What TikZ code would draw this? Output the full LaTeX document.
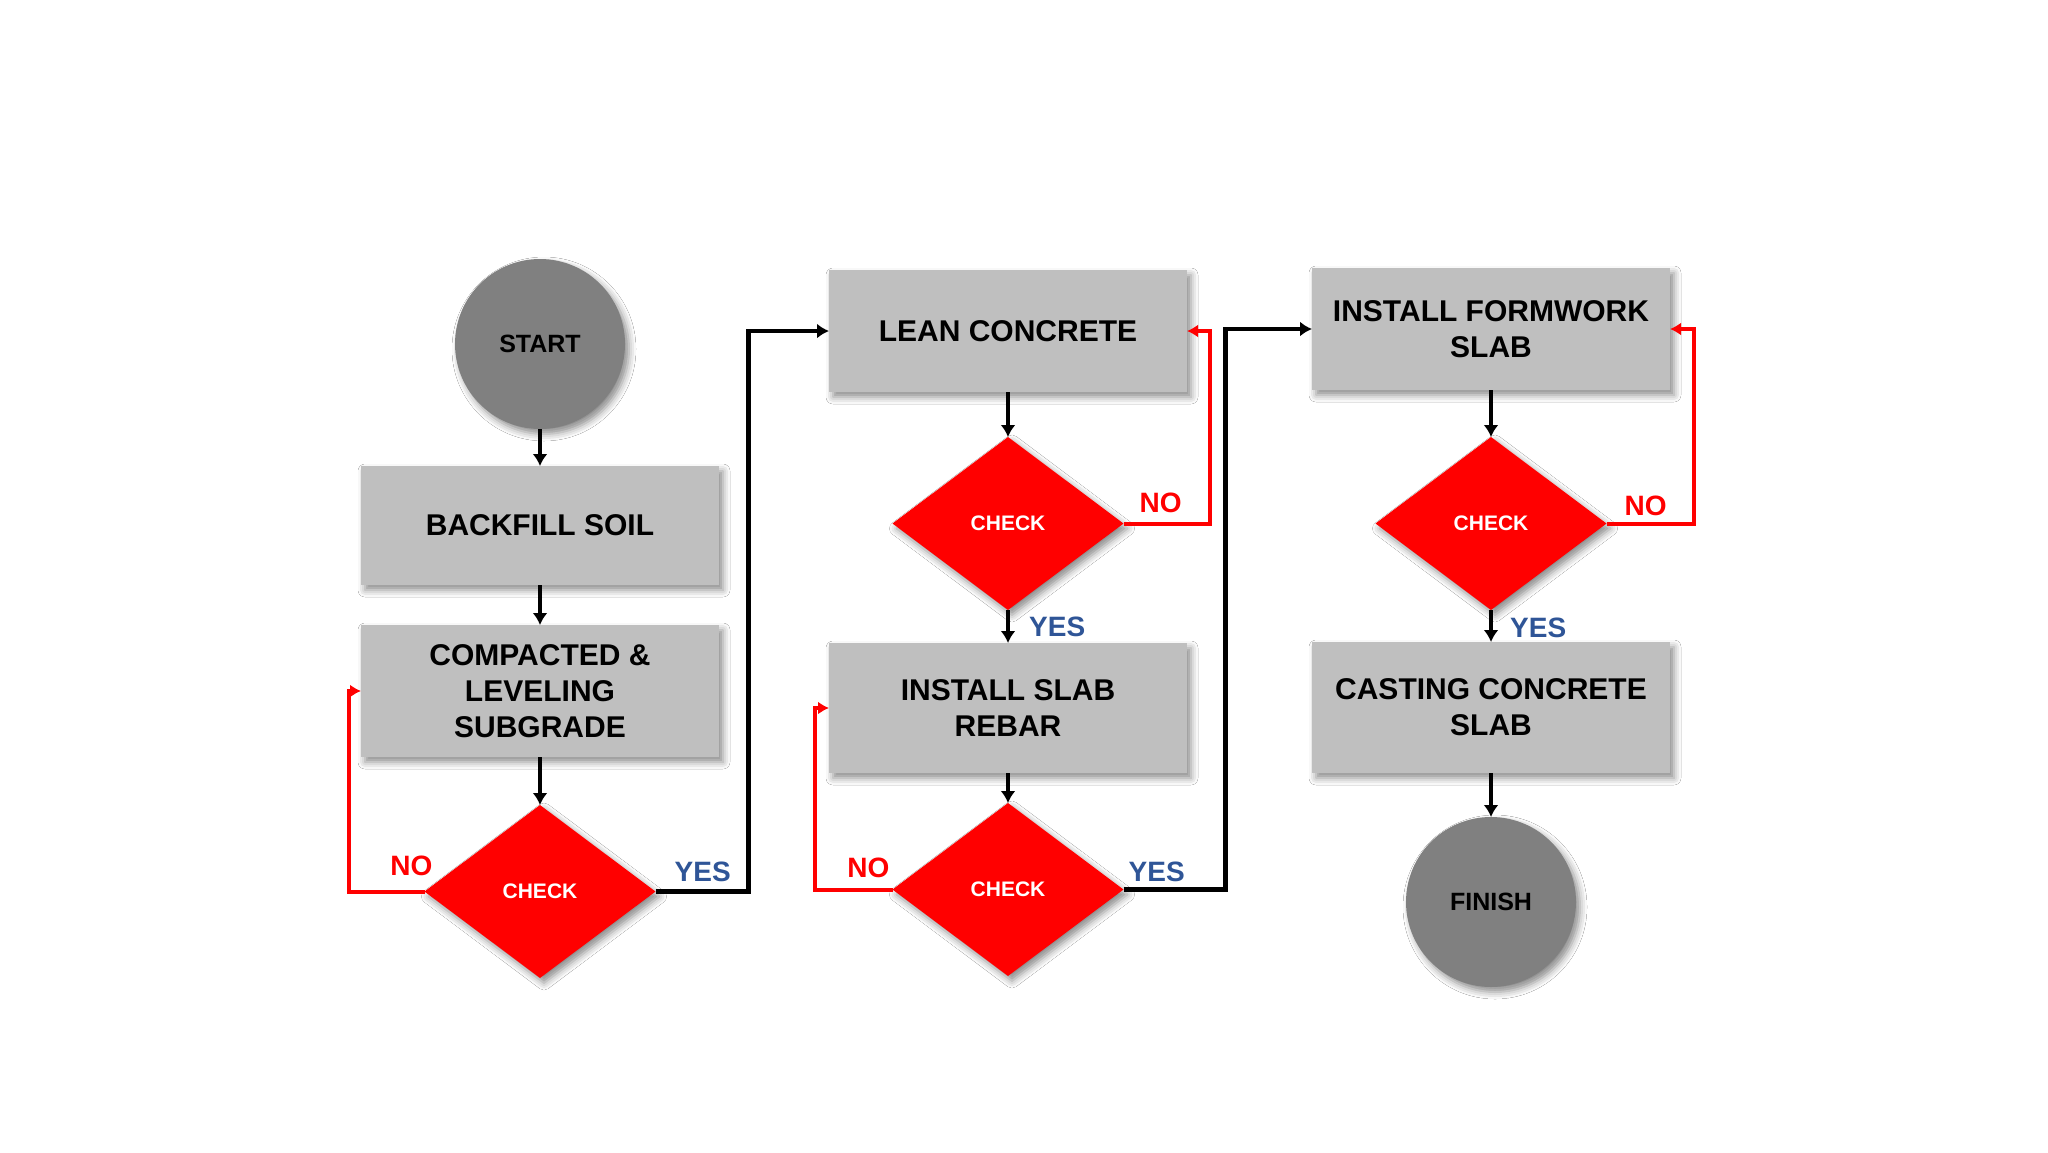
\documentclass[tikz,border=0pt]{standalone}
\usepackage{fontspec}
\setmainfont{Liberation Sans}
\usetikzlibrary{arrows.meta,positioning,shapes.geometric,shadows.blur}

\definecolor{termgray}{HTML}{808080}
\definecolor{boxgray}{HTML}{BFBFBF}
\definecolor{checkred}{HTML}{FF0000}
\definecolor{yesblue}{HTML}{2F5597}

\tikzset{
  softshadow/.style={blur shadow={shadow xshift=4pt, shadow yshift=-5pt, shadow blur radius=7pt, shadow opacity=45}},
  terminal/.style={circle, fill=termgray, minimum size=170pt, inner sep=0pt, outer sep=0pt,
    font=\bfseries\fontsize{25}{30}\selectfont, softshadow},
  stepbox/.style={rectangle, fill=boxgray, minimum width=358pt, inner sep=0pt, outer sep=0pt,
    align=center, font=\bfseries\fontsize{30}{36}\selectfont, softshadow},
  checkbox/.style={diamond, fill=checkred, minimum width=231pt, minimum height=173pt, inner sep=0pt,
    outer sep=0pt, text=white, font=\bfseries\fontsize{21}{25}\selectfont, softshadow},
  flow/.style={line width=4.2pt, -{Latex[length=12pt,width=15pt]}},
  loopback/.style={checkred, line width=4pt, -{Latex[length=11pt,width=13pt]}},
  nolabel/.style={inner sep=0pt, text=checkred, font=\bfseries\fontsize{28}{32}\selectfont},
  yeslabel/.style={inner sep=0pt, text=yesblue, font=\bfseries\fontsize{28}{32}\selectfont}
}

\begin{document}
\begin{tikzpicture}[x=1pt, y=1pt]
  \fill[white] (0,0) rectangle (2048,-1152);

  % first column
  \node[terminal] (start) at (540,-344) {START};
  \node[stepbox, minimum height=119pt, below=37pt of start] (backfill) {BACKFILL SOIL};
  \node[stepbox, minimum height=132pt, below=40pt of backfill] (compact) {COMPACTED \&\\LEVELING\\SUBGRADE};
  \node[checkbox, below=48pt of compact] (chkcompact) {CHECK};

  % second column
  \node[stepbox, minimum height=122pt] (lean) at (1008,-331) {LEAN CONCRETE};
  \node[checkbox, below=45pt of lean] (chklean) {CHECK};
  \node[stepbox, minimum height=130pt, below=33pt of chklean] (rebar) {INSTALL SLAB\\REBAR};
  \node[checkbox, below=30pt of rebar] (chkrebar) {CHECK};

  % third column
  \node[stepbox, minimum height=122pt] (formwork) at (1491,-329) {INSTALL FORMWORK\\SLAB};
  \node[checkbox, below=47pt of formwork] (chkform) {CHECK};
  \node[stepbox, minimum height=131pt, below=32pt of chkform] (casting) {CASTING CONCRETE\\SLAB};
  \node[terminal, below=44pt of casting] (finish) {FINISH};

  \draw[flow] (start) -- (backfill);
  \draw[flow] (backfill) -- (compact);
  \draw[flow] (compact) -- (chkcompact);
  \draw[flow] (chkcompact.east) -- ++(93,0) |- (lean.west);
  \draw[flow] (lean) -- (chklean);
  \draw[flow] (chklean) -- (rebar);
  \draw[flow] (rebar) -- (chkrebar);
  \draw[flow] (chkrebar.east) -- ++(102,0) |- (formwork.west);
  \draw[flow] (formwork) -- (chkform);
  \draw[flow] (chkform) -- (casting);
  \draw[flow] (casting) -- (finish);

  \draw[loopback] (chkcompact.west) -- ++(-76,0) |- (compact.west);
  \draw[loopback] (chklean.east) -- ++(86,0) |- (lean.east);
  \draw[loopback] (chkrebar.west) -- ++(-78,0) |- (rebar.west);
  \draw[loopback] (chkform.east) -- ++(87,0) |- (formwork.east);

  \node[nolabel, anchor=base east, xshift=8pt, yshift=16pt] (nocompact) at (chkcompact.west) {NO};
  \node[yeslabel, anchor=base west, xshift=19pt, yshift=10pt] (yescompact) at (chkcompact.east) {YES};
  \node[nolabel, anchor=base west, xshift=16pt, yshift=11pt] (nolean) at (chklean.east) {NO};
  \node[yeslabel, anchor=base west, xshift=21pt, yshift=-26pt] (yeslean) at (chklean.south) {YES};
  \node[nolabel, anchor=base east, xshift=-3pt, yshift=12pt] (norebar) at (chkrebar.west) {NO};
  \node[yeslabel, anchor=base west, xshift=5pt, yshift=8pt] (yesrebar) at (chkrebar.east) {YES};
  \node[nolabel, anchor=base west, xshift=18pt, yshift=8pt] (noform) at (chkform.east) {NO};
  \node[yeslabel, anchor=base west, xshift=19pt, yshift=-27pt] (yesform) at (chkform.south) {YES};
\end{tikzpicture}
\end{document}
